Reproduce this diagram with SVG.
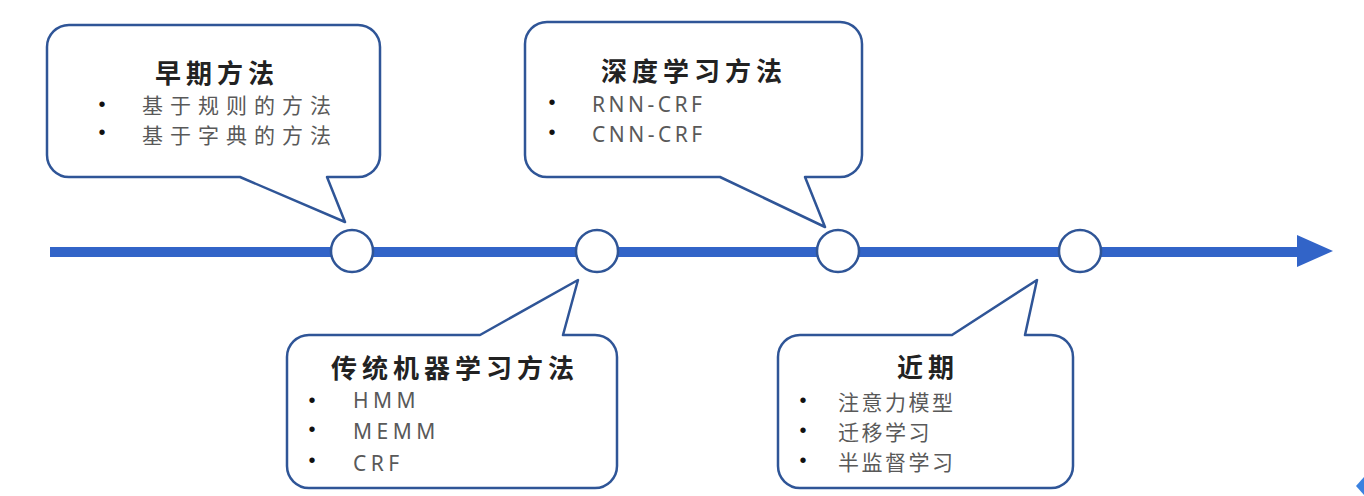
<svg xmlns="http://www.w3.org/2000/svg" width="1364" height="496" viewBox="0 0 1364 496">
  <style>
    .box { fill: #ffffff; stroke: #2f5597; stroke-width: 2.5; stroke-linejoin: round; }
    .dot { fill: #ffffff; stroke: #2f5597; stroke-width: 2.5; }
    .title { font-family: "Noto Sans CJK SC", "Noto Sans", sans-serif; font-weight: bold; font-size: 26px; fill: #222222; text-anchor: middle; letter-spacing: 5px; }
    .item { font-family: "Noto Sans", "Noto Sans CJK SC", sans-serif; font-size: 21px; fill: #595959; }
    .bul { font-family: "Liberation Sans", sans-serif; font-size: 20px; fill: #111111; text-anchor: middle; }
  </style>
  <rect width="1364" height="496" fill="#ffffff"/>
  <g id="connectors">
    <rect x="50" y="247" width="1250" height="10" fill="#3264c8"/>
    <polygon points="1297,235 1333,251 1297,267" fill="#3264c8"/>
  </g>
  <g id="milestone-1"><circle class="dot" cx="352" cy="251" r="21"/></g>
  <g id="milestone-2"><circle class="dot" cx="597" cy="251" r="21"/></g>
  <g id="milestone-3"><circle class="dot" cx="838" cy="251" r="21"/></g>
  <g id="milestone-4"><circle class="dot" cx="1080" cy="251" r="21"/></g>

  <g id="early">
    <path class="box" d="M69,25 H358 A22,22 0 0 1 380,47 V155 A22,22 0 0 1 358,177 H327 L345,222 L240,177 H69 A22,22 0 0 1 47,155 V47 A22,22 0 0 1 69,25 Z"/>
    <text class="title" x="217" y="83">早期方法</text>
    <text class="bul" x="102" y="111">•</text>
    <text class="bul" x="102" y="139">•</text>
    <text class="item" x="142" y="113" style="letter-spacing:7px" font-size="22">基于规则的方法</text>
    <text class="item" x="142" y="143" style="letter-spacing:7px" font-size="22">基于字典的方法</text>
  </g>

  <g id="deep">
    <path class="box" d="M547,22 H840 A22,22 0 0 1 862,44 V155 A22,22 0 0 1 840,177 H805 L825,227 L720,177 H547 A22,22 0 0 1 525,155 V44 A22,22 0 0 1 547,22 Z"/>
    <text class="title" x="694" y="81">深度学习方法</text>
    <text class="bul" x="552" y="109">•</text>
    <text class="bul" x="552" y="139">•</text>
    <text class="item" x="592" y="112" style="letter-spacing:3.5px">RNN-CRF</text>
    <text class="item" x="592" y="142" style="letter-spacing:3.5px">CNN-CRF</text>
  </g>

  <g id="traditional">
    <path class="box" d="M309,335 H480 L578,280 L563,335 H595 A22,22 0 0 1 617,357 V466 A22,22 0 0 1 595,488 H309 A22,22 0 0 1 287,466 V357 A22,22 0 0 1 309,335 Z"/>
    <text class="title" x="455" y="378">传统机器学习方法</text>
    <text class="bul" x="312" y="407">•</text>
    <text class="bul" x="312" y="436">•</text>
    <text class="bul" x="312" y="467">•</text>
    <text class="item" x="353" y="408" style="letter-spacing:4.5px">HMM</text>
    <text class="item" x="353" y="439" style="letter-spacing:4.5px">MEMM</text>
    <text class="item" x="353" y="471" style="letter-spacing:4.5px">CRF</text>
  </g>

  <g id="recent">
    <path class="box" d="M800,335 H952 L1037,280 L1025,335 H1051 A22,22 0 0 1 1073,357 V466 A22,22 0 0 1 1051,488 H800 A22,22 0 0 1 778,466 V357 A22,22 0 0 1 800,335 Z"/>
    <text class="title" x="928" y="377">近期</text>
    <text class="bul" x="803" y="407">•</text>
    <text class="bul" x="803" y="437">•</text>
    <text class="bul" x="803" y="467">•</text>
    <text class="item" x="838" y="410" style="letter-spacing:2.5px" font-size="22">注意力模型</text>
    <text class="item" x="838" y="440" style="letter-spacing:2.5px" font-size="22">迁移学习</text>
    <text class="item" x="838" y="470" style="letter-spacing:2.5px" font-size="22">半监督学习</text>
  </g>
  <polygon points="1356,486 1364,477 1364,495" fill="#3b82e0"/>
</svg>
